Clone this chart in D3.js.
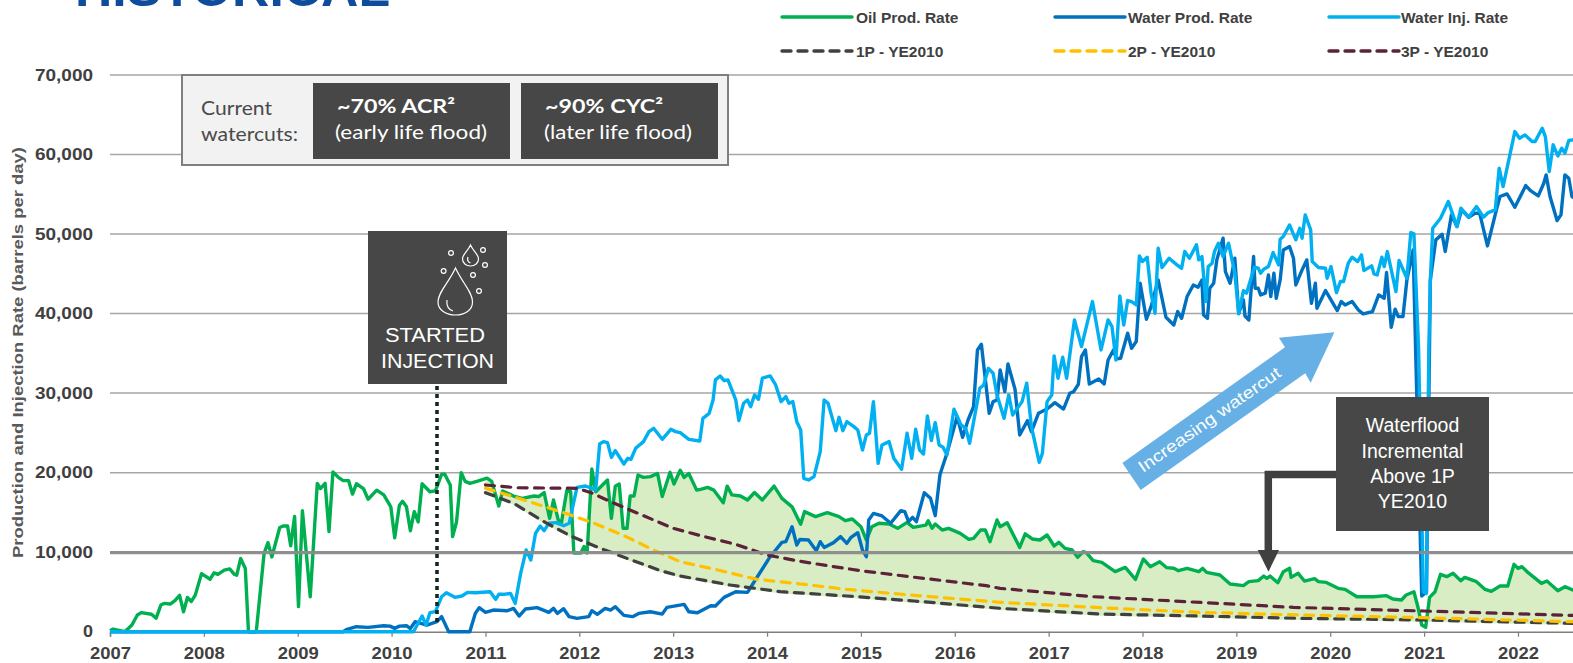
<!DOCTYPE html>
<html><head><meta charset="utf-8">
<script src="https://cdnjs.cloudflare.com/ajax/libs/d3/7.8.5/d3.min.js"></script>
<style>html,body{margin:0;padding:0;background:#fff;overflow:hidden}svg{display:block}</style>
</head><body><div id="chart"></div>
<script>
// Values: [months since Jan 2007, barrels per day]
const yearLabels = [2007,2008,2009,2010,2011,2012,2013,2014,2015,2016,2017,2018,2019,2020,2021,2022];
const yTicks = [0,10000,20000,30000,40000,50000,60000,70000];
const oilProd = [[0,130],[.4,330],[1.9,0],[2.8,840],[3.5,2100],[4,2400],[5.3,2200],[5.9,1700],[6.5,3350],[6.9,3560],[7.7,3480],[8.3,3900],[8.9,4570],[9.4,2500],[9.9,4300],[10.4,3800],[10.9,4600],[11.7,7300],[12.8,6600],[13.3,7400],[13.8,7200],[14.6,7750],[15.3,7900],[15.9,7200],[16.2,7100],[16.7,9200],[17.3,7950],[17.7,0],[18.7,0],[19.7,9850],[20.2,11200],[20.7,9400],[21.1,10900],[21.7,13100],[22.2,13300],[22.7,13300],[23.1,10800],[23.6,14500],[24.1,3150],[24.6,15200],[25.6,4400],[26.5,18650],[26.9,18000],[27.5,18650],[28,12600],[28.5,20100],[29.2,19400],[29.8,19000],[30.5,19000],[31,17300],[31.5,18600],[32.4,18000],[33,16650],[34.1,17800],[35,17200],[35.9,15700],[36.4,11800],[37,15900],[37.4,16400],[37.9,15700],[38.4,12700],[38.9,15100],[39.4,13800],[39.9,18600],[40.9,17600],[41.6,17700],[42.4,19800],[42.8,19800],[43.5,18450],[43.8,11950],[44.3,13800],[44.9,20000],[45.4,18900],[46,18650],[46.9,18900],[48.2,19300],[48.8,18900],[49.7,15800],[50.2,17700],[51.6,17060],[52.7,16770],[54.2,17060],[54.8,17000],[55.5,17500],[56.2,14250],[56.7,16560],[57.3,14050],[57.7,13630],[58.4,17740],[58.9,17600],[59.3,9900],[60.2,9900],[60.6,10700],[61,9900],[61.6,20460],[62.1,17600],[63.6,19080],[64.1,14250],[64.6,18300],[65.1,18570],[65.6,13000],[66.1,13000],[66.5,17060],[67,17060],[67.5,19700],[68.2,19400],[69.1,19500],[70,19900],[70.6,17000],[71.6,20040],[72.1,18570],[72.9,20300],[73.4,19400],[74,19900],[75,17800],[75.5,17900],[76.4,18150],[77.2,17800],[78.4,16200],[78.9,18300],[79.5,17200],[80.6,17060],[81.5,16560],[82.4,17500],[83.4,16560],[84.9,18300],[85.9,16770],[87.2,15700],[88.3,13500],[88.8,15100],[90.2,14470],[91.7,14970],[93.2,14470],[94,13960],[94.9,14170],[96,13200],[96.7,11530],[97.4,13200],[98.3,13630],[99.6,13540],[100.7,13000],[101.9,13750],[102.7,13120],[104.3,13400],[104.6,13960],[105.1,13000],[105.5,13540],[106.4,12790],[107.2,13000],[108.7,12370],[109.8,11610],[110.4,11740],[111.3,12790],[111.9,12790],[112.5,11320],[113.4,14050],[113.8,13200],[114.7,13700],[116.3,10600],[117,12300],[117.9,11660],[118.9,11530],[119.8,12160],[120.7,10780],[121.3,11240],[122.1,10480],[123,10270],[123.7,9350],[124.4,10060],[124.8,9940],[125.7,8930],[126.8,8720],[128.5,7550],[129.8,8090],[131.1,6580],[132.1,9140],[133,8180],[134.2,8800],[135.1,8050],[136,7970],[136.6,7670],[137.7,7970],[139.2,7550],[139.7,7970],[140.2,7460],[141.9,7130],[143.2,6000],[144.9,5790],[145.6,6290],[146.8,6420],[147.5,7000],[147.9,6710],[148.3,7000],[149.3,6160],[150,7550],[150.8,7970],[151,6830],[151.9,7340],[152.7,6370],[154,6670],[154.5,6290],[155.5,6200],[157,5450],[157.9,5320],[159.4,4400],[161.5,4400],[163.2,4530],[164,4110],[165.1,3980],[165.7,4610],[166.7,5030],[167.2,3140],[167.7,840],[168.2,550],[168.7,4320],[169.4,5030],[170.1,7210],[170.9,6920],[171.7,7340],[172.7,6420],[173.2,6830],[174.7,6290],[175.8,5320],[176.6,5070],[177.7,5740],[178.7,5740],[179.5,8470],[180,7970],[180.5,8180],[181.3,7420],[183,6080],[183.7,6370],[185.1,5160],[186,5660],[187,5240],[188,5100]];
const waterProd = [[0,0],[29.8,0],[30.3,300],[31.5,630],[33,550],[35,750],[35.8,700],[36.4,420],[37,700],[37.9,750],[38.4,400],[39,1260],[40.5,840],[41.8,1260],[42.4,1890],[43.3,0],[46,0],[46.7,2300],[47.2,3020],[48,2430],[49,2720],[50.8,2640],[51.6,2930],[52.3,1970],[53.1,2850],[54.6,3020],[56.1,2430],[56.7,2930],[57.2,2300],[58,2890],[58.7,1890],[59.7,1680],[61.2,1890],[61.6,2640],[62.3,2180],[63.3,2930],[64,2720],[64.6,3140],[65.7,2050],[66.8,1890],[67.6,2300],[69.1,2510],[70.6,2220],[71.2,3060],[73.4,3440],[74,2510],[75.1,2390],[76.8,3270],[77.4,3230],[78.5,4320],[80,5030],[81.5,4950],[82.5,6500],[84.4,9430],[85.9,11240],[86.4,11320],[87.2,13200],[87.8,10900],[88.2,11600],[89.3,11530],[90.3,10190],[90.8,11320],[91.3,10600],[92.5,11200],[93.4,11950],[94.2,11110],[94.7,11820],[95.6,12450],[96.2,10270],[96.7,9430],[97,14050],[97.6,14880],[98.7,14550],[99.8,13630],[101.1,15220],[101.6,15090],[102.1,13840],[102.6,14380],[103.1,13840],[104.1,17480],[104.9,16770],[105.5,14590],[106.1,19700],[106.3,20340],[107,22430],[108.3,27040],[109,24440],[109.7,26620],[110.4,28300],[110.9,35430],[111.4,36140],[112.4,27460],[112.9,28930],[113.4,29140],[113.8,32910],[114.4,30190],[114.8,33670],[115.7,30480],[116.3,24740],[117.3,26540],[117.8,25160],[118.7,27460],[119.8,28000],[120.8,28800],[121.9,28000],[122.7,29980],[123.2,30190],[123.8,31110],[124.2,34590],[124.7,35430],[125.2,31150],[126.4,31780],[127.1,31150],[127.6,34170],[128.3,35430],[128.7,34300],[129.2,34380],[130.1,37530],[130.6,35640],[131.2,36480],[131.7,43810],[132.5,39290],[133.1,40880],[134,44230],[135,39540],[136,38570],[136.5,40250],[137,39410],[137.7,42140],[138.5,43600],[139.1,43310],[139.6,44230],[139.8,39830],[140.3,39410],[140.6,43180],[141.1,43810],[141.5,46750],[142.3,49480],[142.6,45280],[143.2,43810],[143.8,46960],[144.3,40040],[144.9,41720],[145.1,39700],[145.6,39200],[146.2,47170],[146.4,43190],[146.8,43190],[147.1,42350],[147.7,42560],[148.1,44860],[148.4,42140],[148.8,45070],[149.1,41930],[149.6,44230],[150,48010],[150.8,48430],[151.3,46960],[151.6,43600],[152.4,45490],[153,46750],[153.6,41300],[154.1,43810],[154.3,40670],[155.4,42890],[156.9,40380],[157.4,41510],[157.9,41090],[158.8,41510],[159.6,40460],[160.2,39960],[161.4,40250],[162.2,42350],[162.9,41930],[163.2,45160],[163.8,38280],[164.3,40550],[164.7,39620],[165.3,39620],[165.8,44230],[166.6,48010],[167.7,4490],[168.3,5000],[168.8,44230],[169.5,49270],[170.3,49980],[170.7,47800],[171.5,52410],[172.2,50940],[172.8,53040],[173.7,52120],[174.5,52620],[175.1,52620],[176.1,48510],[177.3,53250],[177.7,54720],[178.6,55050],[179.6,53370],[181,56100],[181.6,55470],[182.6,54800],[183.3,56390],[183.6,57440],[184.1,54720],[185,51700],[185.5,52410],[186,57440],[186.5,57020],[186.9,54720],[188,54000]];
const waterInj = [[0,0],[38.8,0],[39.9,1970],[40.4,840],[40.9,2390],[41.6,2520],[42.4,4400],[43,4900],[44.1,4320],[45,4490],[45.7,4950],[46.7,4900],[48.6,5030],[49.3,4070],[49.7,4700],[50.3,4700],[51.2,4820],[51.8,3560],[52.5,7340],[53.2,10270],[53.8,9010],[54.4,12370],[55,13290],[55.5,12700],[56.1,13630],[57,13710],[58,13330],[58.7,13630],[59.7,18150],[60.8,18320],[62.1,17820],[62.6,23600],[63.1,23900],[63.6,23770],[64.1,21930],[64.6,22770],[65.7,21090],[66.2,21800],[66.6,21680],[67.2,23060],[68.2,23900],[68.9,25160],[69.5,25580],[70.6,24190],[71.7,25450],[72.3,25160],[72.9,25030],[74,24190],[75.4,23980],[75.8,26830],[76.6,27460],[77.1,29140],[77.4,31660],[78,32160],[78.5,31570],[79,31660],[80,29140],[80.4,26540],[81,28720],[81.5,29140],[81.9,28300],[82.4,29770],[82.9,29220],[83.4,31870],[84.4,32160],[85.1,31030],[85.8,28930],[86.4,29560],[86.8,28720],[87.3,28930],[87.8,26410],[88.3,25370],[88.7,19290],[89.3,19080],[90,19500],[90.8,22640],[91.3,29140],[91.8,28720],[92.8,25280],[93.2,26960],[93.7,25280],[94.2,26410],[95.1,25790],[95.6,25370],[96.2,22850],[96.7,24740],[97.1,24950],[97.6,28930],[98.2,21170],[98.7,23480],[99.6,23900],[100.2,21800],[101.2,20420],[101.9,24950],[102.5,21800],[103,25450],[103.5,22850],[104,22350],[104.5,27130],[105,24030],[105.5,26290],[106,23480],[106.5,23190],[107,22220],[107.9,27970],[108.8,26000],[109.4,25580],[109.9,23690],[111.2,30610],[111.7,31030],[112.3,33120],[112.9,32500],[113.4,29770],[114.3,26830],[114.9,29770],[115.4,27250],[116.6,28930],[117.2,31240],[117.8,25790],[118.8,21300],[119.2,22430],[119.8,28930],[120.4,29770],[120.7,34680],[121.2,31870],[121.8,34510],[122.3,31870],[123.3,39200],[124.2,35850],[125.6,41510],[126.7,35430],[127.6,39200],[128.1,38360],[128.6,34170],[129.1,42220],[129.6,38570],[130.1,41640],[130.6,41510],[131.2,41090],[131.6,47250],[132,46540],[132.6,47090],[133.1,42500],[133.6,40040],[134,48220],[134.5,45790],[135.4,46960],[136.4,46120],[137,45700],[137.4,47800],[138,46960],[138.9,48640],[139.2,46750],[139.6,47170],[140.1,41510],[140.4,45910],[140.9,46330],[141.2,47800],[141.7,48850],[142.3,47170],[143,48850],[143.8,45070],[144.3,39960],[144.9,42890],[145.3,42560],[146.3,45830],[146.8,45700],[147.1,45070],[147.5,45580],[148.1,45910],[148.7,47670],[149.4,46120],[149.6,49350],[150,49690],[150.8,51150],[151.6,49270],[152.1,50730],[152.4,49480],[152.8,52410],[153.5,50520],[153.7,46540],[154.5,45790],[155.4,45700],[155.6,44440],[156.1,45910],[156.8,42640],[157.3,44030],[157.7,44030],[158.3,46330],[158.8,47090],[159.5,46540],[160,47380],[160.3,45410],[161.3,46000],[161.6,44990],[162,44860],[162.6,47090],[162.9,45910],[163.3,47800],[164.4,42770],[164.8,46670],[165.8,44440],[166.3,50190],[166.7,50020],[167.3,35430],[167.9,5000],[168.3,4820],[168.6,35430],[168.8,44230],[169.1,50730],[170.1,51990],[171.1,54090],[172.2,50940],[172.7,53250],[173.7,52120],[174.7,53460],[175.6,52120],[176.2,52700],[177.1,53040],[177.6,58280],[178.1,55970],[179.6,62890],[180.2,62050],[180.9,62470],[181.8,61640],[182.2,61640],[183.1,63310],[183.5,62260],[184,57860],[184.5,61220],[185.1,59830],[185.6,60800],[186,60170],[186.5,61760],[187,61850],[188,62000]];
const p1 = [[48,17480],[51.6,16140],[55.7,13710],[58.9,12030],[62.7,10480],[66.1,9220],[70.4,7670],[72.9,7000],[79.3,5870],[85.7,5030],[94.2,4490],[102.8,3860],[113.9,2930],[126.6,2220],[139.4,1970],[152.2,1680],[167.9,1470],[187,1050],[188,1030]];
const p2 = [[48,18040],[52,16860],[56,15600],[58.5,14800],[61.9,13630],[65.7,12080],[69.5,10270],[72.9,8800],[77.2,7880],[82.7,6580],[88.3,6000],[94.2,5320],[102.8,4570],[113.9,3690],[126.6,3020],[139.4,2430],[152.2,2100],[167.9,1760],[187,1260],[188,1240]];
const p3 = [[48,18450],[52,18100],[59.7,18030],[61.5,17480],[64,16350],[68,14670],[72,13000],[76,11950],[80,10980],[84,9640],[88,8890],[92,8260],[96,7670],[104,6710],[112,5790],[113.8,5450],[125.7,4400],[137.7,3770],[151.3,3060],[167.9,2600],[187,2050],[188,2030]];
const legendRows = [
  ["Oil Prod. Rate","Water Prod. Rate","Water Inj. Rate"],
  ["1P - YE2010","2P - YE2010","3P - YE2010"]
];

const W = 1573, H = 663, INK = "#404040";
const x = d3.scaleLinear().domain([0,192]).range([110,110+192*7.822]);
const y = d3.scaleLinear().domain([0,70000]).range([631.7,75]);
const svg = d3.select("#chart").append("svg").attr("width",W).attr("height",H)
  .attr("font-family","'Liberation Sans',Arial,sans-serif");

// title, clipped by the top of the page
svg.append("text").attr("x",75).attr("y",6).attr("font-size",50).attr("font-weight",700)
  .attr("fill","#0f4c9c").attr("textLength",315).attr("lengthAdjust","spacingAndGlyphs").text("HISTORICAL");

// gridlines
svg.append("g").selectAll("line").data(yTicks.filter(d=>d>0)).join("line")
  .attr("x1",110).attr("x2",W).attr("y1",d=>y(d)).attr("y2",d=>y(d))
  .attr("stroke","#a6a6a6").attr("stroke-width",1.5);

// axes
const yAxis = svg.append("g").attr("transform","translate(110,0)")
  .call(d3.axisLeft(y).tickValues(yTicks).tickSize(0).tickPadding(17).tickFormat(d3.format(",")));
yAxis.select(".domain").remove();
yAxis.selectAll("text").attr("font-size",16.5).attr("font-weight",700).attr("fill",INK)
  .attr("font-family","'Liberation Sans',Arial,sans-serif")
  .attr("textLength",function(d){return d===0?10:58}).attr("lengthAdjust","spacingAndGlyphs");
const xAxis = svg.append("g").attr("transform",`translate(0,${y(0)})`)
  .call(d3.axisBottom(x).tickValues(yearLabels.map((d,i)=>i*12)).tickSize(5).tickPadding(11).tickFormat((d,i)=>yearLabels[i]));
xAxis.select(".domain").attr("stroke","#7f7f7f").attr("stroke-width",1.5);
xAxis.selectAll("line").attr("stroke","#7f7f7f").attr("stroke-width",1.25);
xAxis.selectAll("text").attr("font-size",16.5).attr("font-weight",700).attr("fill",INK)
  .attr("font-family","'Liberation Sans',Arial,sans-serif")
  .attr("textLength",41).attr("lengthAdjust","spacingAndGlyphs");

svg.append("text").attr("transform","translate(23,352.5) rotate(-90)").attr("text-anchor","middle")
  .attr("font-size",15.5).attr("font-weight",700).attr("fill","#595959")
  .attr("textLength",411).attr("lengthAdjust","spacingAndGlyphs")
  .text("Production and Injection Rate (barrels per day)");

// incremental wedge between oil and the 1P decline
const p1At = d3.scaleLinear().domain(p1.map(d=>d[0])).range(p1.map(d=>d[1]));
const wedge = d3.merge([oilProd.filter(d=>d[0]>=48), p1.map(d=>[d[0],null])])
  .map(d=>{const o=d[1]; return d;});
const oilAt = d3.scaleLinear().domain(oilProd.map(d=>d[0])).range(oilProd.map(d=>d[1]));
const wedgeT = Array.from(new Set(wedge.map(d=>d[0]))).sort(d3.ascending);
svg.append("path").attr("fill","#d9edc5")
  .attr("d",d3.area().x(t=>x(t)).y0(t=>y(p1At(t)-220)).y1(t=>y(Math.max(oilAt(t),p1At(t)-220)))(wedgeT));

// series
const line = d3.line().x(d=>x(d[0])).y(d=>y(d[1]));
const series = [
  {v:oilProd,c:"#00b050"},{v:waterProd,c:"#0070c0"},{v:waterInj,c:"#00b0f0"},
  {v:p1,c:"#404040",dash:true},{v:p2,c:"#ffc000",dash:true},{v:p3,c:"#5c2238",dash:true}
];
series.forEach(s=>{
  svg.append("path").attr("d",line(s.v)).attr("fill","none").attr("stroke",s.c)
    .attr("stroke-width",s.dash?3.2:3.4).attr("stroke-linejoin","round")
    .attr("stroke-linecap",s.dash?"round":"butt").attr("stroke-dasharray",s.dash?"9 7.4":null);
});

// heavy 10,000 gridline sits over the marks
svg.append("line").attr("x1",110).attr("x2",W).attr("y1",y(10000)+.5).attr("y2",y(10000)+.5)
  .attr("stroke","#8c8c8c").attr("stroke-width",3.4).attr("opacity",.95);

// legend
const legX=[782,1055,1329], legTX=[856,1128,1401], legY=[17,51];
legendRows.forEach((row,r)=>row.forEach((label,i)=>{
  const s=series[r*3+i];
  svg.append("line").attr("x1",legX[i]).attr("x2",legX[i]+70).attr("y1",legY[r]).attr("y2",legY[r])
    .attr("stroke",s.c).attr("stroke-width",3.4).attr("stroke-linecap","round")
    .attr("stroke-dasharray",s.dash?"9 7":null);
  const t=svg.append("text").attr("x",legTX[i]).attr("y",legY[r]+6).attr("font-size",15.5)
    .attr("font-weight",700).attr("fill",INK).text(label);
}));

// watercut box
svg.append("rect").attr("x",182).attr("y",75).attr("width",546).attr("height",90)
  .attr("fill","#f2f2f2").attr("stroke","#7f7f7f").attr("stroke-width",2);
const LF="Lato,'Open Sans',sans-serif";
const T=(parent,txt,xx,yy,size,len,opts={})=>{
  const e=parent.append("text").attr("x",xx).attr("y",yy).attr("font-size",size).attr("fill",opts.fill||"#fff")
    .attr("font-family",opts.font||"'Liberation Sans',Arial,sans-serif").attr("font-weight",opts.weight||400)
    .attr("text-anchor",opts.anchor||"start").text(txt);
  if(len) e.attr("textLength",len).attr("lengthAdjust","spacingAndGlyphs");
  return e;
};
T(svg,"Current",201,115,20,71,{fill:"#4a4a4a",font:LF});
T(svg,"watercuts:",201,141,20,97,{fill:"#4a4a4a",font:LF});
[[313,197],[521,197]].forEach(b=>svg.append("rect").attr("x",b[0]).attr("y",83).attr("width",b[1]).attr("height",76).attr("fill","#464746"));
T(svg,"~70% ACR²",337,113,19,118,{font:LF,weight:700});
T(svg,"(early life flood)",335,139,20,152,{font:LF});
T(svg,"~90% CYC²",545,113,19,118,{font:LF,weight:700});
T(svg,"(later life flood)",544,139,20,148,{font:LF});

// started injection
svg.append("line").attr("x1",437).attr("x2",437).attr("y1",386).attr("y2",626)
  .attr("stroke","#14281f").attr("stroke-width",3.6).attr("stroke-dasharray","4 4");
svg.append("rect").attr("x",368).attr("y",231).attr("width",139).attr("height",153).attr("fill","#464746");
T(svg,"STARTED",435,342,19.5,100,{anchor:"middle"});
T(svg,"INJECTION",437.5,368,19.5,113,{anchor:"middle"});
const icon=svg.append("g").attr("fill","none").attr("stroke","#fff").attr("stroke-width",1.2);
icon.append("path").attr("d","M455.5 268 C448 284 438 292 438 302 C438 310 446 315 455.5 315 C465 315 472.5 310 472.5 302 C472.5 292 463 284 455.5 268 Z");
icon.append("path").attr("d","M447 300 C446 306 449 310 453 311");
icon.append("path").attr("d","M470.5 245 C468 251 462.5 254 462.5 259 C462.5 263 466 266 470.5 266 C475 266 478.5 263 478.5 259 C478.5 254 473 251 470.5 245 Z");
icon.append("path").attr("d","M468 257 C467 260 468 262 470.5 263");
[[451,253],[483,250],[485,265],[443.6,271],[473,275],[479,291]].forEach(c=>icon.append("circle").attr("cx",c[0]).attr("cy",c[1]).attr("r",2.4));

// increasing watercut arrow
svg.append("polygon").attr("fill","#66b0e5")
  .attr("points","1122.4,463 1285,347.3 1278.9,337.7 1334.4,332.3 1310.7,382.7 1305.2,373.3 1140.7,490");
svg.append("text").attr("transform","translate(1143,473) rotate(-35)").attr("font-size",16.5).attr("fill","#fff")
  .attr("textLength",170).attr("lengthAdjust","spacingAndGlyphs").text("Increasing watercut");

// waterflood incremental callout
svg.append("path").attr("d","M1340 474.5 H1268.3 V552").attr("fill","none").attr("stroke","#404040").attr("stroke-width",7.5);
svg.append("polygon").attr("fill","#404040").attr("points","1257.7,550 1279,550 1268.5,571.7");
svg.append("rect").attr("x",1336).attr("y",397).attr("width",153).attr("height",134).attr("fill","#464746");
["Waterflood","Incremental","Above 1P","YE2010"].forEach((s,i)=>T(svg,s,1412.5,[432,458,483,508][i],19.5,null,{anchor:"middle"}));
</script></body></html>
